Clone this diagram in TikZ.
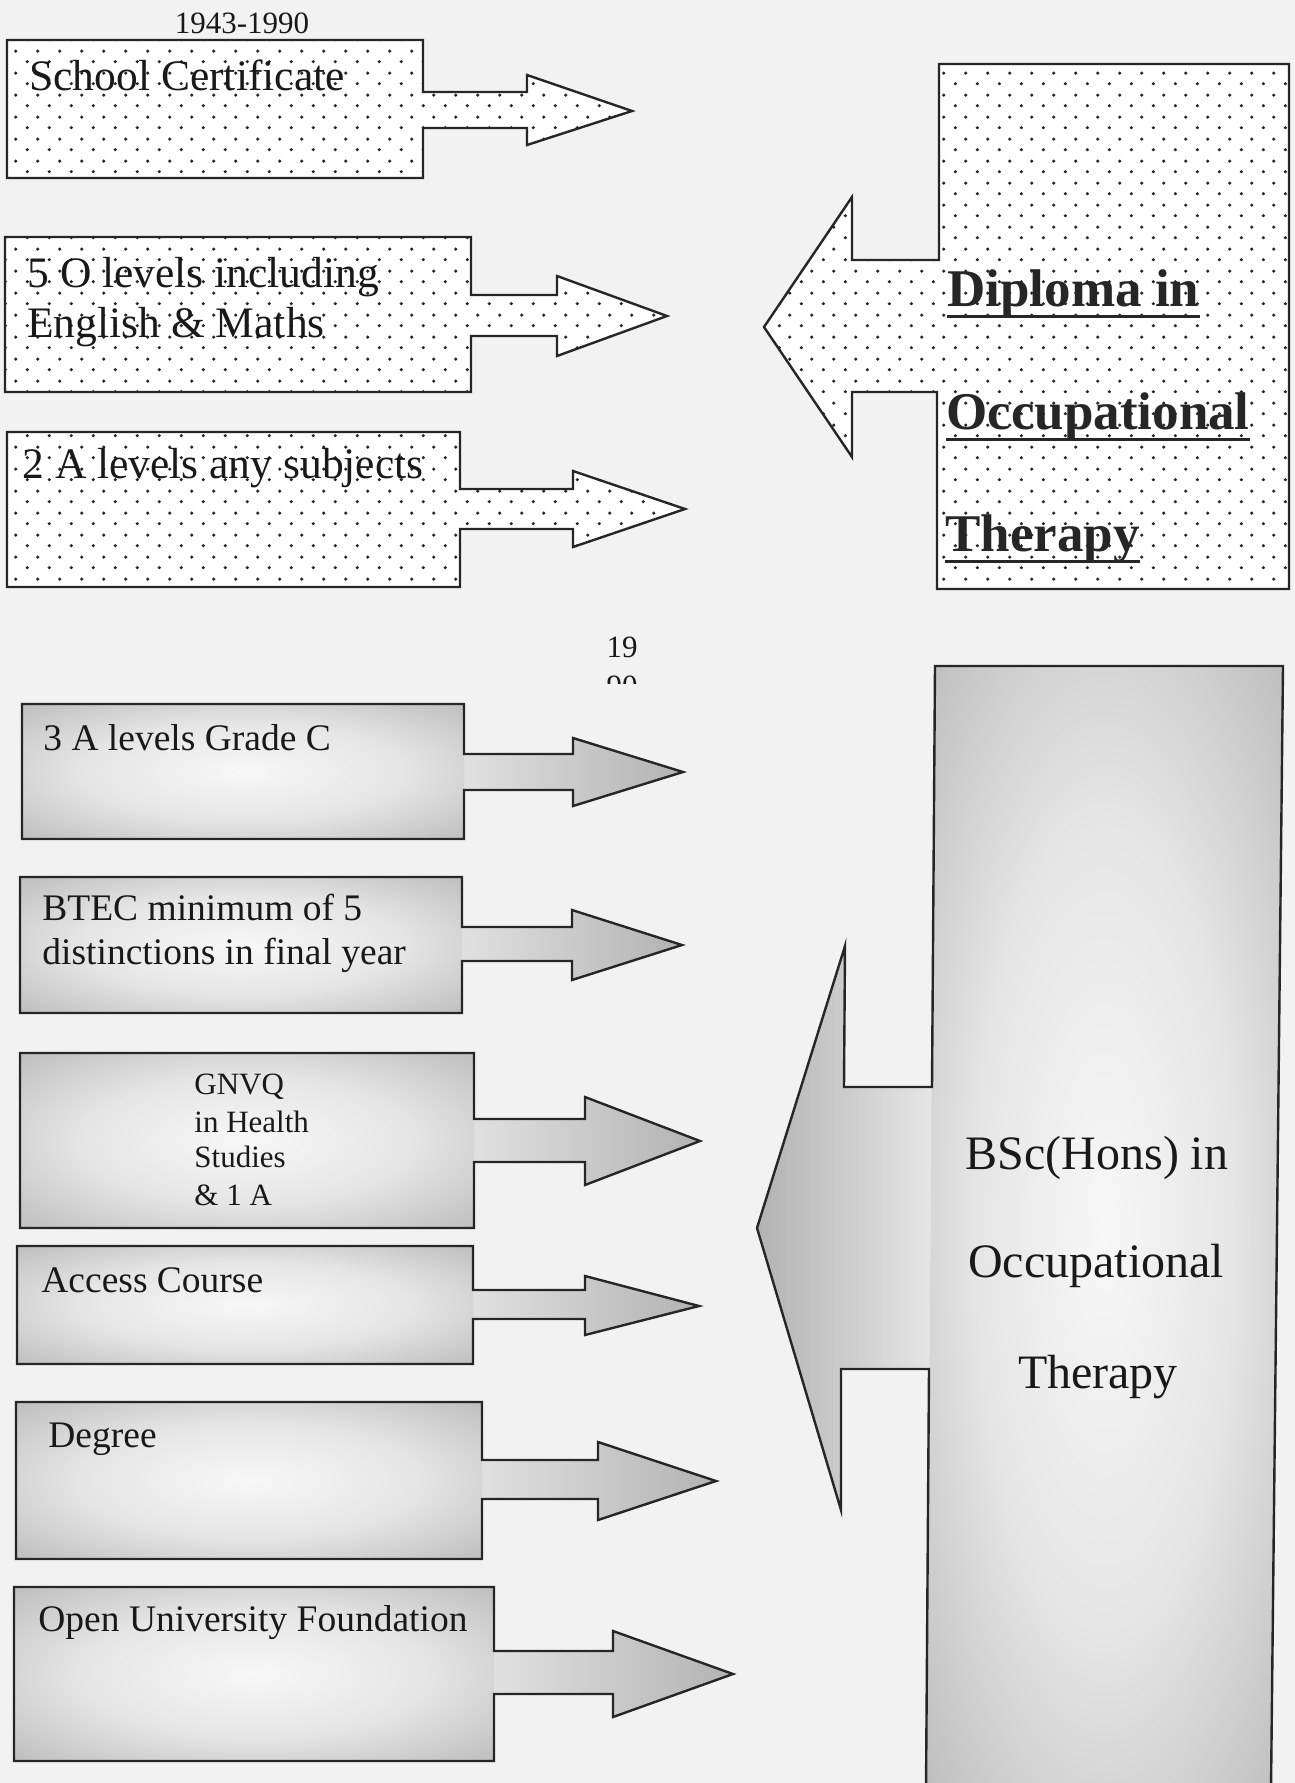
\documentclass[tikz,border=0pt]{standalone}
\usepackage{fontspec}
\setmainfont{Liberation Serif}
\usetikzlibrary{patterns.meta}

\tikzdeclarepattern{
  name=dotgrid,
  type=uncolored,
  bottom left={(0pt,0pt)},
  top right={(10.75pt,11pt)},
  tile size={(10.75pt,11pt)},
  code={
    \fill (2.7pt,2.75pt) circle [radius=0.9pt];
    \fill (8.07pt,8.25pt) circle [radius=0.9pt];
  }
}
\pgfdeclareradialshading{glow}{\pgfpoint{0bp}{0bp}}{%
  color(0bp)=(black!3); color(18bp)=(black!10); color(45bp)=(black!34); color(72bp)=(black!46)}

\begin{document}
\begin{tikzpicture}[x=0.5pt, y=-0.5pt,
    outline/.style={draw=black!85, line width=1.2pt, line join=miter},
    dotbox/.style={outline, preaction={fill=white}, pattern=dotgrid, pattern color=black!85},
    arrowgrey/.style={left color=black!12, right color=black!30},
    toptext/.style={font=\fontsize{21.75}{25}\selectfont, inner sep=0pt, anchor=base west, text=black!90},
    lowtext/.style={font=\fontsize{18.75}{22}\selectfont, inner sep=0pt, anchor=base west, text=black!90},
    smalltext/.style={font=\fontsize{15.5}{18.5}\selectfont, inner sep=0pt, anchor=base, text=black!90},
    bigbold/.style={font=\fontsize{26.5}{30}\selectfont\bfseries, inner sep=0pt, anchor=base west, text=black!85},
    bigtext/.style={font=\fontsize{24}{28}\selectfont, inner sep=0pt, anchor=base, text=black!90}]
  \clip (0,0) rectangle (1295,1783);
  \fill[black!5] (0,0) rectangle (1295,1783);

  % 1943-1990
  \node[smalltext] (period1) at (242,33) {1943-1990};
  \draw[dotbox] (7,40) -- (423,40) -- (423,92) -- (527,92) -- (527,75) -- (632,111) -- (527,145) -- (527,128) -- (423,128) -- (423,178) -- (7,178) -- cycle;
  \draw[dotbox] (5,237) -- (471,237) -- (471,295) -- (557,295) -- (557,276) -- (667,316) -- (557,356) -- (557,336) -- (471,336) -- (471,392) -- (5,392) -- cycle;
  \draw[dotbox] (7,432) -- (460,432) -- (460,489) -- (573,489) -- (573,471) -- (685,509) -- (573,547) -- (573,529) -- (460,529) -- (460,587) -- (7,587) -- cycle;
  \draw[dotbox] (939,64) -- (1289,64) -- (1289,589) -- (937,589) -- (937,392) -- (852,392) -- (852,457) -- (764,327) -- (852,197) -- (852,260) -- (939,260) -- cycle;

  \node[toptext] (school) at (29,90) {School Certificate};
  \node[toptext] (olev1) at (27,287) {5 O levels including};
  \node[toptext] (olev2) at (27,337) {English \& Maths};
  \node[toptext] (alev2) at (22,478) {2 A levels any subjects};
  \node[bigbold] (dip1) at (947,306) {Diploma in};
  \node[bigbold] (dip2) at (946,429) {Occupational};
  \node[bigbold] (dip3) at (945,551) {Therapy};
  \draw[line width=1.5pt, black!85] ([yshift=-5pt]dip1.base west) -- ([yshift=-5pt]dip1.base east);
  \draw[line width=1.5pt, black!85] ([yshift=-5pt]dip2.base west) -- ([yshift=-5pt]dip2.base east);
  \draw[line width=1.5pt, black!85] ([yshift=-5pt]dip3.base west) -- ([yshift=-5pt]dip3.base east);

  % 1990
  \begin{scope}
    \clip (590,630) rectangle (660,683);
    \node[smalltext] (period2a) at (622,657) {19};
    \node[smalltext] (period2b) at (622,696) {90};
  \end{scope}

  \shade[arrowgrey] (464,754) -- (573,754) -- (573,738) -- (683,772) -- (573,806) -- (573,790) -- (464,790) -- cycle;
  \shade[shading=glow] (22,704) rectangle (464,839);
  \draw[outline] (22,704) -- (464,704) -- (464,754) -- (573,754) -- (573,738) -- (683,772) -- (573,806) -- (573,790) -- (464,790) -- (464,839) -- (22,839) -- cycle;

  \shade[arrowgrey] (462,927) -- (572,927) -- (572,910) -- (682,945) -- (572,980) -- (572,961) -- (462,961) -- cycle;
  \shade[shading=glow] (20,877) rectangle (462,1013);
  \draw[outline] (20,877) -- (462,877) -- (462,927) -- (572,927) -- (572,910) -- (682,945) -- (572,980) -- (572,961) -- (462,961) -- (462,1013) -- (20,1013) -- cycle;

  \shade[arrowgrey] (474,1119) -- (585,1119) -- (585,1097) -- (700,1141) -- (585,1185) -- (585,1162) -- (474,1162) -- cycle;
  \shade[shading=glow] (20,1053) rectangle (474,1228);
  \draw[outline] (20,1053) -- (474,1053) -- (474,1119) -- (585,1119) -- (585,1097) -- (700,1141) -- (585,1185) -- (585,1162) -- (474,1162) -- (474,1228) -- (20,1228) -- cycle;

  \shade[arrowgrey] (473,1290) -- (585,1290) -- (585,1276) -- (699,1306) -- (585,1335) -- (585,1319) -- (473,1319) -- cycle;
  \shade[shading=glow] (17,1246) rectangle (473,1364);
  \draw[outline] (17,1246) -- (473,1246) -- (473,1290) -- (585,1290) -- (585,1276) -- (699,1306) -- (585,1335) -- (585,1319) -- (473,1319) -- (473,1364) -- (17,1364) -- cycle;

  \shade[arrowgrey] (482,1460) -- (598,1460) -- (598,1442) -- (716,1481) -- (598,1520) -- (598,1499) -- (482,1499) -- cycle;
  \shade[shading=glow] (16,1402) rectangle (482,1559);
  \draw[outline] (16,1402) -- (482,1402) -- (482,1460) -- (598,1460) -- (598,1442) -- (716,1481) -- (598,1520) -- (598,1499) -- (482,1499) -- (482,1559) -- (16,1559) -- cycle;

  \shade[arrowgrey] (494,1651) -- (613,1651) -- (613,1631) -- (733,1674) -- (613,1717) -- (613,1694) -- (494,1694) -- cycle;
  \shade[shading=glow] (14,1587) rectangle (494,1761);
  \draw[outline] (14,1587) -- (494,1587) -- (494,1651) -- (613,1651) -- (613,1631) -- (733,1674) -- (613,1717) -- (613,1694) -- (494,1694) -- (494,1761) -- (14,1761) -- cycle;

  \shade[left color=black!30, right color=black!10] (932,1087) -- (844,1087) -- (845,946) -- (757,1228) -- (841,1510) -- (841,1369) -- (929,1369) -- cycle;
  \shade[shading=glow] (935,666) -- (1283,666) -- (1271,1790) -- (926,1790) -- cycle;
  \draw[outline] (935,666) -- (1283,666) -- (1271,1790) -- (926,1790) -- (929,1369) -- (841,1369) -- (841,1510) -- (757,1228) -- (845,946) -- (844,1087) -- (932,1087) -- cycle;

  \node[lowtext] (alev3) at (43,750) {3 A levels Grade C};
  \node[lowtext] (btec1) at (42,920) {BTEC minimum of 5};
  \node[lowtext] (btec2) at (42,964) {distinctions in final year};
  \node[smalltext, anchor=base west] (gnvq1) at (194,1094) {GNVQ};
  \node[smalltext, anchor=base west] (gnvq2) at (194,1132) {in Health};
  \node[smalltext, anchor=base west] (gnvq3) at (194,1167) {Studies};
  \node[smalltext, anchor=base west] (gnvq4) at (194,1205) {\& 1 A};
  \node[lowtext] (access) at (41,1292) {Access Course};
  \node[lowtext] (degree) at (48,1447) {Degree};
  \node[lowtext] (openuni) at (38,1631) {Open University Foundation};
  \node[bigtext] (bsc1) at (1097,1169) {BSc(Hons) in};
  \node[bigtext] (bsc2) at (1096,1277) {Occupational};
  \node[bigtext] (bsc3) at (1098,1388) {Therapy};
\end{tikzpicture}
\end{document}
